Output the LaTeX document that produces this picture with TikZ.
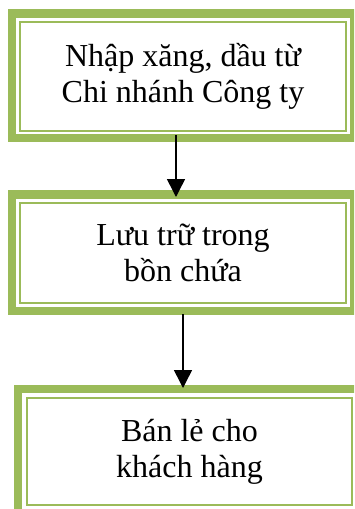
\documentclass[tikz,border=0pt]{standalone}
\usepackage{fontspec}
\setmainfont{Liberation Serif}
\usetikzlibrary{arrows.meta}
\definecolor{frameg}{HTML}{9BBB59}
\tikzset{
  stepbox/.style={draw=frameg, line width=2pt, fill=white, align=center,
    font=\fontsize{32}{36}\selectfont, inner sep=0pt},
  thickframe/.style={draw=frameg, line width=8.5pt},
  flowarrow/.style={draw=black, line width=1.5pt, -{Triangle[length=18pt 0,width=18pt 0]}}
}
\begin{document}
\begin{tikzpicture}[x=1pt,y=-1pt]
\useasboundingbox (0,0) rectangle (354,509);
\clip (0,0) rectangle (354,509);
% boxes (inner thin frame)
\node[stepbox, minimum width=326pt, minimum height=109pt] (a) at (183,76.5) {Nhập xăng, dầu từ\\Chi nhánh Công ty};
\node[stepbox, minimum width=326pt, minimum height=100pt] (b) at (183,253) {Lưu trữ trong\\bồn chứa};
\node[stepbox, minimum width=325pt, minimum height=107pt] (c) at (189.5,451.5) {Bán lẻ cho\\khách hàng};
% outer thick frames
\draw[thickframe] ([shift={(-7,-7.5)}]a.north west) rectangle ([shift={(7,6)}]a.south east);
\draw[thickframe] ([shift={(-7,-7.5)}]b.north west) rectangle ([shift={(7,7)}]b.south east);
\draw[thickframe] ([shift={(-8,-8)}]c.north west) rectangle ([shift={(7,7)}]c.south east);
% connectors
\draw[flowarrow] ([shift={(-7,3)}]a.south) -- ([shift={(-7,-5)}]b.north);
\draw[flowarrow] ([shift={(0,10)}]b.south) -- ([shift={(-6.5,-9)}]c.north);
\end{tikzpicture}
\end{document}
